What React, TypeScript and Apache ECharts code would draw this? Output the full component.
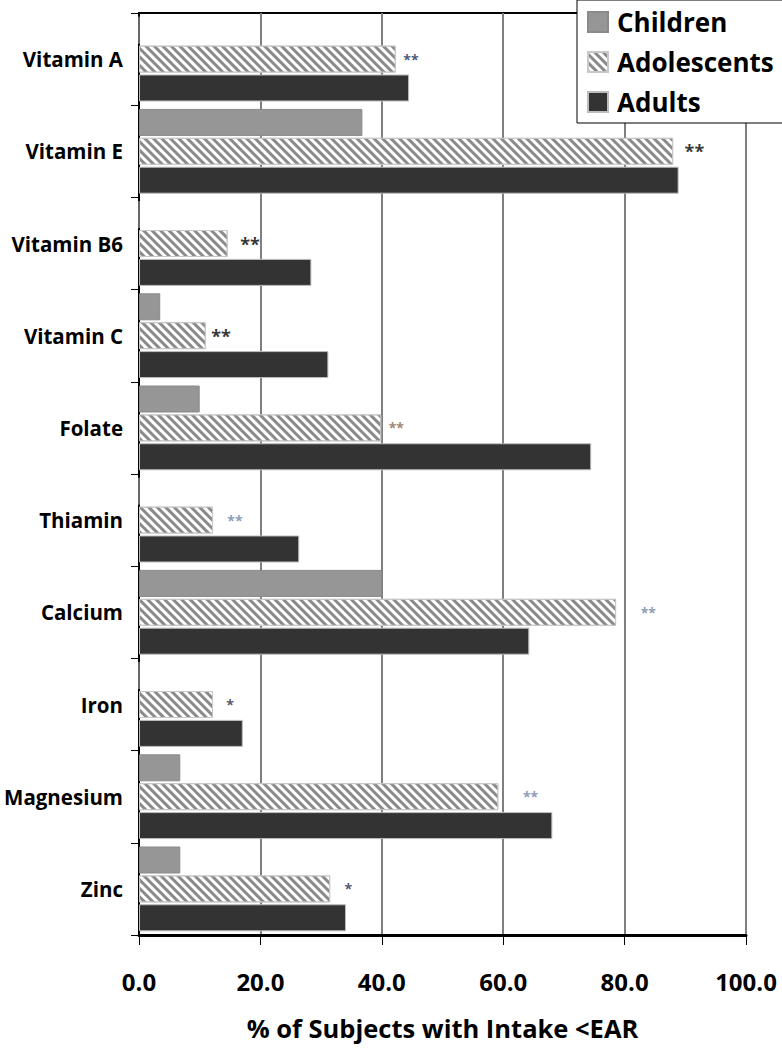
import React, { useEffect, useRef } from "react";
import * as echarts from "echarts";

const categories = [
  "Vitamin A",
  "Vitamin E",
  "Vitamin B6",
  "Vitamin C",
  "Folate",
  "Thiamin",
  "Calcium",
  "Iron",
  "Magnesium",
  "Zinc",
];
const children = [0, 36.8, 0, 3.5, 10.0, 0, 40.0, 0, 6.8, 6.8];
const adolescents = [42.3, 88.0, 14.6, 11.0, 39.9, 12.2, 78.6, 12.2, 59.2, 31.5];
const adults = [44.5, 88.9, 28.4, 31.2, 74.5, 26.4, 64.3, 17.1, 68.1, 34.1];
const starText = ["**", "**", "**", "**", "**", "**", "**", "*", "**", "*"];
const starX = [44.8, 91.5, 18.3, 13.5, 42.4, 15.8, 83.9, 15.0, 64.5, 34.5];
const starColor = [
  "#1f2c4f", "#000000", "#000000", "#000000", "#8a6555",
  "#6f82a8", "#6f82a8", "#1f2c4f", "#6f82a8", "#1f2c4f",
];
const starSize = [14, 18, 18, 18, 14, 14, 14, 14, 14, 14];
const xTicks = [0, 20, 40, 60, 80, 100];

const FONT = "'Open Sans', sans-serif";

export default function App() {
  const ref = useRef<HTMLDivElement>(null);
  useEffect(() => {
    if (!ref.current) return;
    const chart = echarts.init(ref.current, null, { renderer: "svg" });
    const hatch = {
      symbol: "rect",
      symbolSize: 1,
      color: "#8a8a8a",
      dashArrayX: [1, 0],
      dashArrayY: [3, 2.6],
      rotation: Math.PI / 4,
    };
    chart.setOption({
      animation: false,
      backgroundColor: "#ffffff",
      textStyle: { fontFamily: FONT },
      grid: {
        left: 139,
        right: 36,
        top: 13,
        bottom: 115,
        show: true,
        borderColor: "#000",
        borderWidth: 2,
        containLabel: false,
        outerBoundsMode: "none",
      },
      legend: {
        orient: "vertical",
        left: 577,
        top: 0,
        data: ["Children", "Adolescents", "Adults"],
        backgroundColor: "#fff",
        borderColor: "#000",
        borderWidth: 1,
        padding: [9, 40, 8, 10],
        itemWidth: 20,
        itemHeight: 20,
        itemGap: 14,
        icon: "rect",
        textStyle: {
          fontFamily: FONT,
          fontWeight: "bold",
          fontSize: 26,
          color: "#000",
          padding: [0, 0, 0, 4],
        },
      },
      xAxis: {
        type: "value",
        min: xTicks[0],
        max: xTicks[xTicks.length - 1],
        interval: 20,
        name: "% of Subjects with Intake <EAR",
        nameLocation: "middle",
        nameGap: 80,
        nameTextStyle: {
          fontFamily: FONT,
          fontWeight: "bold",
          fontSize: 25.5,
          color: "#000",
        },
        axisLine: { show: true, lineStyle: { color: "#000", width: 3 } },
        axisTick: { show: true, length: 10, lineStyle: { color: "#000", width: 1 } },
        splitLine: { show: true, lineStyle: { color: "#7f7f7f", width: 2 } },
        axisLabel: {
          formatter: (v: number) => v.toFixed(1),
          fontFamily: FONT,
          fontWeight: "bold",
          fontSize: 24,
          color: "#000",
          margin: 34,
        },
      },
      yAxis: {
        type: "category",
        data: categories,
        inverse: true,
        axisLine: { show: true, lineStyle: { color: "#000", width: 2 } },
        axisTick: { show: true, length: 8, lineStyle: { color: "#000", width: 1 } },
        axisLabel: {
          fontFamily: FONT,
          fontWeight: "bold",
          fontSize: 20.5,
          color: "#000",
          margin: 16,
        },
        splitLine: { show: false },
      },
      series: [
        {
          name: "Children",
          type: "bar",
          data: children,
          barWidth: 27,
          barGap: "7%",
          itemStyle: { color: "#969696", borderColor: "#8a8a8a", borderWidth: 1 },
        },
        {
          name: "Adolescents",
          type: "bar",
          data: adolescents,
          barWidth: 27,
          barGap: "7%",
          itemStyle: {
            color: "#ffffff",
            borderColor: "#c8c8c8",
            borderWidth: 1,
            decal: hatch,
          },
        },
        {
          name: "Adults",
          type: "bar",
          data: adults,
          barWidth: 27,
          barGap: "7%",
          itemStyle: { color: "#333333", borderColor: "#bdbdbd", borderWidth: 1 },
        },
        {
          name: "stars",
          type: "scatter",
          symbolSize: 1,
          itemStyle: { color: "rgba(0,0,0,0)" },
          silent: true,
          data: starX.map((x, i) => ({
            value: [x, i],
            label: {
              show: true,
              position: "inside",
              formatter: starText[i],
              color: starColor[i],
              fontSize: starSize[i],
              fontWeight: "bold",
              fontFamily: FONT,
            },
          })),
        },
      ],
    });
    return () => chart.dispose();
  }, []);
  return (
    <div
      ref={ref}
      style={{ position: "absolute", left: 0, top: 0, width: 782, height: 1050 }}
    />
  );
}
